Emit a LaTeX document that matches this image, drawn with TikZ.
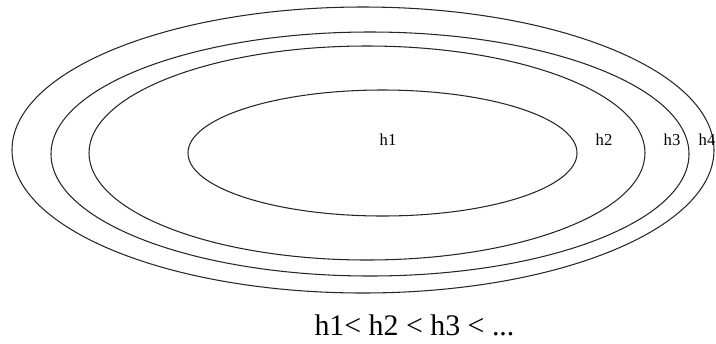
\documentclass[tikz,border=0pt]{standalone}
\usepackage{fontspec}
\setmainfont{Liberation Serif}
\usetikzlibrary{positioning}
\tikzset{
  every picture/.style={line width=0.6pt, x=0.02cm, y=0.02cm},
  ring/.style={draw=black!85},
  hlabel/.style={font=\fontsize{9.5}{11}\selectfont, inner sep=0pt, anchor=base},
  caption/.style={font=\fontsize{17}{20}\selectfont, inner sep=0pt, anchor=base west},
}

\begin{document}
\begin{tikzpicture}
  \useasboundingbox (0,0) rectangle (716,343);
  % nested hypothesis sets, outermost first
  \foreach \cx/\cy/\rx/\ry in {363/193/351/143, 370/189/319/122, 367/190/278/107, 382.5/190/194.5/63} {
    \draw[ring] (\cx,\cy) ellipse [x radius=\rx, y radius=\ry];
  }
  \node[hlabel] (h1) at (388,198) {h1};
  \node[hlabel] (h2) at (604,198) {h2};
  \node[hlabel] (h3) at (672,198) {h3};
  \node[hlabel] (h4) at (707,198) {h4};
  % ordering
  \node[caption] (order) at (314,8) {h1< h2 < h3 < ...};
\end{tikzpicture}
\end{document}
